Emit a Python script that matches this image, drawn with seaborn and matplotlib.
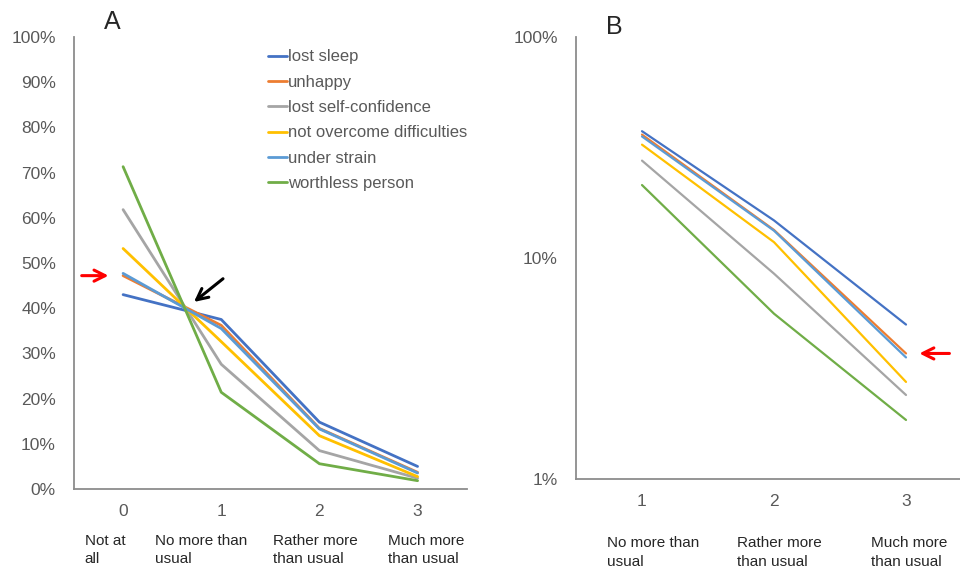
import numpy as np
import pandas as pd
import matplotlib
matplotlib.use('Agg')
import matplotlib.pyplot as plt
import seaborn as sns

# Data (percent of respondents)
symptoms = ['lost sleep', 'unhappy', 'lost self-confidence',
            'not overcome difficulties', 'under strain', 'worthless person']
colors = ['#4472C4', '#ED7D31', '#A5A5A5', '#FFC000', '#5B9BD5', '#70AD47']
levels = [0, 1, 2, 3]
level_labels = ['Not at\nall', 'No more than\nusual', 'Rather more\nthan usual', 'Much more\nthan usual']

lost_sleep = [43.0, 37.5, 14.8, 5.0]
unhappy = [47.2, 36.2, 13.4, 3.7]
lost_confidence = [61.8, 27.6, 8.5, 2.4]
not_overcome = [53.2, 32.6, 11.8, 2.75]
under_strain = [47.7, 35.5, 13.3, 3.55]
worthless = [71.3, 21.4, 5.6, 1.85]

series = [lost_sleep, unhappy, lost_confidence, not_overcome, under_strain, worthless]
rows = []
for name, vals in zip(symptoms, series):
    for lv, v in zip(levels, vals):
        rows.append({'symptom': name, 'level': lv, 'pct': v})
df = pd.DataFrame(rows)
palette = dict(zip(symptoms, colors))

sns.set_style('white')
plt.rcParams['font.family'] = ['Liberation Sans', 'DejaVu Sans']
tick_grey = '#595959'
axis_grey = '#8C8C8C'

fig = plt.figure(figsize=(9.6, 5.68), dpi=100)
axA = fig.add_axes([0.0771, 0.139, 0.409, 0.796])
axB = fig.add_axes([0.6, 0.1567, 0.4, 0.778])

# Panel A
sns.lineplot(data=df, x='level', y='pct', hue='symptom', hue_order=symptoms,
             palette=palette, linewidth=2.0, ax=axA)
axA.set_xlim(-0.5, 3.5)
axA.set_ylim(0, 100)
axA.set_yticks(np.arange(0, 101, 10))
axA.set_yticklabels([f'{t}%' for t in range(0, 101, 10)])
axA.set_xticks(levels)
axA.set_xticklabels([str(l) for l in levels])
leg = axA.legend(loc='upper left', bbox_to_anchor=(0.477, 0.987), frameon=False,
                 handlelength=1.15, handletextpad=0.05, labelspacing=0.62,
                 fontsize=12, borderaxespad=0)
for t in leg.get_texts():
    t.set_color(tick_grey)
# category captions under panel A (left edges in data units)
capA_x = [-0.39, 0.33, 1.53, 2.7]
for x0, lab in zip(capA_x, level_labels):
    axA.text(x0, -0.1, lab, transform=axA.get_xaxis_transform(),
             ha='left', va='top', fontsize=11, linespacing=1.38)
axA.text(-0.2, 1.06, 'A', transform=axA.get_xaxis_transform(), fontsize=18,
         ha='left', va='top')
axA.annotate('', xy=(-0.12, 47.2), xytext=(-0.45, 47.2),
             arrowprops=dict(arrowstyle='->', color='red', lw=2.2, mutation_scale=20))
axA.annotate('', xy=(0.7, 41.0), xytext=(1.04, 46.9),
             arrowprops=dict(arrowstyle='->', color='black', lw=2.2, mutation_scale=20))

# Panel B (log scale, levels 1-3)
dfB = df[df['level'] > 0]
sns.lineplot(data=dfB, x='level', y='pct', hue='symptom', hue_order=symptoms,
             palette=palette, linewidth=1.6, ax=axB, legend=False)
axB.set_yscale('log')
axB.set_ylim(1, 100)
axB.set_xlim(0.5, 0.5 + 384 / 132)
axB.set_yticks([1, 10, 100])
axB.set_yticklabels(['1%', '10%', '100%'])
axB.minorticks_off()
axB.set_xticks([1, 2, 3])
axB.set_xticklabels(['1', '2', '3'])
capB_x = [0.735, 1.72, 2.735]
for x0, lab in zip(capB_x, level_labels[1:]):
    axB.text(x0, -0.13, lab, transform=axB.get_xaxis_transform(),
             ha='left', va='top', fontsize=11, linespacing=1.38)
axB.text(0.73, 1.05, 'B', transform=axB.get_xaxis_transform(), fontsize=18,
         ha='left', va='top')
axB.annotate('', xy=(3.08, 3.7), xytext=(3.35, 3.7),
             arrowprops=dict(arrowstyle='->', color='red', lw=2.2, mutation_scale=20))

for ax in (axA, axB):
    ax.set_xlabel('')
    ax.set_ylabel('')
    for s in ('top', 'right'):
        ax.spines[s].set_visible(False)
    for s in ('left', 'bottom'):
        ax.spines[s].set_color(axis_grey)
        ax.spines[s].set_linewidth(1.3)
    ax.tick_params(axis='both', length=0, colors=tick_grey, labelsize=12.5)
    ax.tick_params(axis='y', pad=13)
    ax.tick_params(axis='x', pad=11)

fig.savefig('out.png', dpi=100)
